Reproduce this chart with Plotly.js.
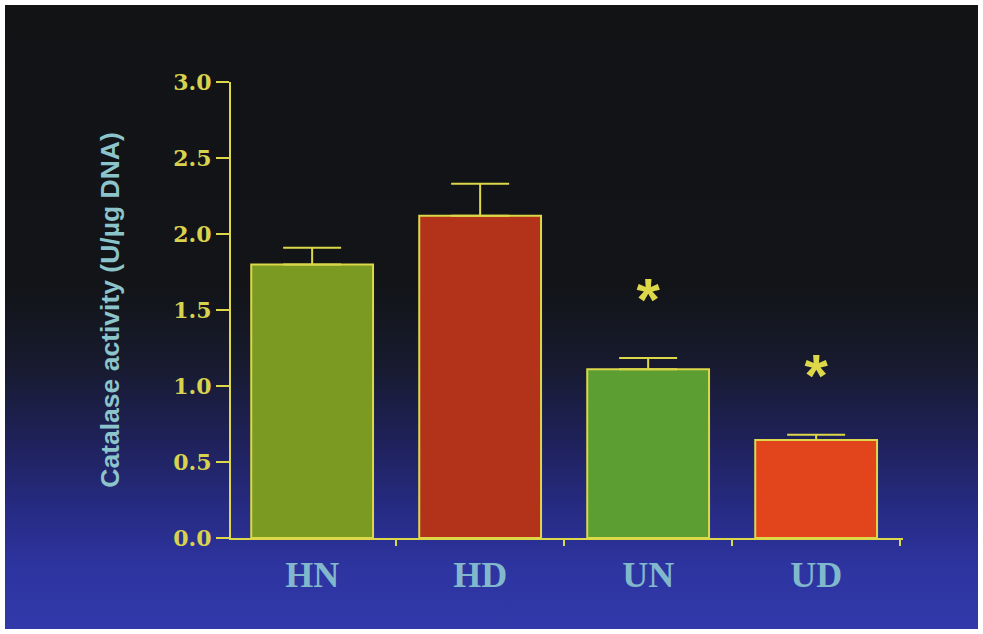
<!DOCTYPE html>
<html>
<head>
<meta charset="utf-8">
<script src="https://cdn.plot.ly/plotly-3.0.1.min.js"></script>
<style>
  html, body { margin: 0; padding: 0; background: #ffffff; width: 983px; height: 634px; overflow: hidden; }
  #plot {
    position: absolute; left: 5px; top: 5px; width: 973px; height: 624px;
    background: linear-gradient(to bottom, #111315 0%, #121418 45%, #171a2c 57%, #1e2156 69%, #262a80 80%, #2d34a0 90%, #3139aa 100%);
  }
</style>
</head>
<body>
<div id="plot"></div>
<script>
const categories = ["HN", "HD", "UN", "UD"];
const values = [1.80, 2.12, 1.11, 0.645];
const errorsUp = [0.11, 0.21, 0.075, 0.035];
const barColors = ["#7a9a22", "#b3321a", "#5c9e32", "#e2441c"];
const starCategories = ["UN", "UD"];
const starValues = [1.53, 1.03];
const yTicks = [0, 0.5, 1.0, 1.5, 2.0, 2.5, 3.0];

const yellow = "#dcd84a";

const bars = {
  type: "bar",
  x: categories,
  y: values,
  width: 0.725,
  marker: { color: barColors, line: { color: yellow, width: 2 } },
  error_y: {
    type: "data", symmetric: false, array: errorsUp, arrayminus: values.map(() => 0),
    color: yellow, thickness: 2, width: 29, visible: true
  },
  hoverinfo: "none"
};

const stars = {
  type: "scatter",
  mode: "text",
  x: starCategories,
  y: starValues,
  text: starCategories.map(() => "*"),
  textfont: { family: "Liberation Sans, Arial, sans-serif", size: 60, color: yellow, weight: "bold" },
  textposition: "middle center",
  hoverinfo: "none"
};

const layout = {
  width: 973, height: 624,
  paper_bgcolor: "rgba(0,0,0,0)",
  plot_bgcolor: "rgba(0,0,0,0)",
  margin: { l: 226, r: 75, t: 77, b: 91 },
  showlegend: false,
  xaxis: {
    type: "category",
    range: [-0.483, 3.517],
    showline: true, linecolor: yellow, linewidth: 2,
    ticks: "outside", tickson: "boundaries", ticklen: 6, tickcolor: yellow, tickwidth: 2,
    showgrid: false, zeroline: false,
    tickfont: { family: "Liberation Serif, Times New Roman, serif", size: 36, color: "#82b8cc", weight: "bold" },
    ticklabelstandoff: 4
  },
  yaxis: {
    range: [0, 3.0],
    tickvals: yTicks,
    ticktext: yTicks.map(v => v.toFixed(1)),
    showline: true, linecolor: yellow, linewidth: 2,
    ticks: "outside", ticklen: 13, tickcolor: yellow, tickwidth: 2,
    showgrid: false, zeroline: false,
    tickfont: { family: "DejaVu Serif, serif", size: 22, color: "#d8d24e", weight: "bold" },
    title: {
      text: "Catalase activity (U/µg DNA)",
      font: { family: "Liberation Sans, Arial, sans-serif", size: 26.5, color: "#8cc4cc", weight: "bold" },
      standoff: 46
    }
  }
};

Plotly.newPlot("plot", [bars, stars], layout, { displayModeBar: false, staticPlot: true });
</script>
</body>
</html>
